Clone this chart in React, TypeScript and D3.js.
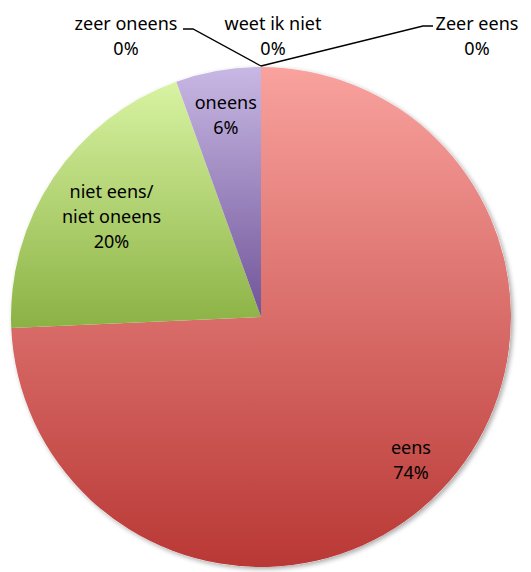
import * as d3 from 'd3';
import { useEffect, useRef } from 'react';

// answer categories, in the order Excel drew them (clockwise from 12 o'clock)
const categories = ['Zeer eens', 'eens', 'niet eens/ niet oneens', 'oneens', 'zeer oneens', 'weet ik niet'];
const shares = [0, 74.3, 20.2, 5.5, 0, 0];
const percentLabels = ['0%', '74%', '20%', '6%', '0%', '0%'];

const W = 531;
const H = 572;

function App() {
  const svgElement = useRef<SVGSVGElement | null>(null);

  useEffect(() => {
    if (!svgElement.current) return;
    const svg = d3.select(svgElement.current);
    svg.selectAll('*').remove();

    const cx = 261;
    const cy = 317;
    const radius = 250;
    const font = "'Noto Sans', sans-serif";
    const fontSize = 18;

    const data = categories.map((name, i) => ({ name, value: shares[i], pct: percentLabels[i] }));

    // gradient per slice, light top -> dark bottom
    const gradColors: Record<string, [string, string]> = {
      eens: ['#f9a29e', '#b93835'],
      'niet eens/ niet oneens': ['#d8f3a2', '#8bb244'],
      oneens: ['#c8b8e4', '#705498'],
    };
    const gradId: Record<string, string> = {};

    const defs = svg.append('defs');
    Object.entries(gradColors).forEach(([key, [top, bottom]], i) => {
      const g = defs
        .append('linearGradient')
        .attr('id', `grad${i}`)
        .attr('x1', 0)
        .attr('y1', 0)
        .attr('x2', 0)
        .attr('y2', 1);
      g.append('stop').attr('offset', '0%').attr('stop-color', top);
      g.append('stop').attr('offset', '100%').attr('stop-color', bottom);
      gradId[key] = `grad${i}`;
    });

    const shadow = defs
      .append('filter')
      .attr('id', 'shadow')
      .attr('x', '-10%')
      .attr('y', '-10%')
      .attr('width', '120%')
      .attr('height', '120%');
    shadow.append('feGaussianBlur').attr('in', 'SourceAlpha').attr('stdDeviation', 2.5);
    shadow.append('feOffset').attr('dx', 1.5).attr('dy', 1.5).attr('result', 'blur');
    shadow.append('feComponentTransfer').append('feFuncA').attr('type', 'linear').attr('slope', 0.35);
    const merge = shadow.append('feMerge');
    merge.append('feMergeNode');
    merge.append('feMergeNode').attr('in', 'SourceGraphic');

    const pie = d3
      .pie<{ name: string; value: number; pct: string }>()
      .sort(null)
      .value((d) => d.value)
      .startAngle(0)
      .endAngle(2 * Math.PI);
    const arcs = pie(data);

    const arc = d3
      .arc<d3.PieArcDatum<{ name: string; value: number; pct: string }>>()
      .innerRadius(0)
      .outerRadius(radius);

    const chart = svg.append('g').attr('transform', `translate(${cx}, ${cy})`);

    // shadow disc under the slices
    chart.append('circle').attr('r', radius).attr('fill', '#fff').attr('filter', 'url(#shadow)');

    chart
      .selectAll('.slice')
      .data(arcs.filter((d) => d.data.value > 0))
      .join('path')
      .attr('class', 'slice')
      .attr('d', arc)
      .attr('fill', (d) => `url(#${gradId[d.data.name]})`);

    // inner labels
    const labelRadius: Record<string, number> = {
      eens: 0.83,
      'niet eens/ niet oneens': 0.72,
      oneens: 0.82,
    };
    const lineH = 25;
    arcs
      .filter((d) => d.data.value > 0)
      .forEach((d) => {
        const mid = (d.startAngle + d.endAngle) / 2;
        const r = radius * labelRadius[d.data.name];
        const x = Math.sin(mid) * r;
        const y = -Math.cos(mid) * r;
        const lines = d.data.name === 'niet eens/ niet oneens' ? ['niet eens/', 'niet oneens'] : [d.data.name];
        lines.push(d.data.pct);
        const t = chart
          .append('text')
          .attr('text-anchor', 'middle')
          .attr('font-family', font)
          .attr('font-size', fontSize)
          .attr('fill', '#000');
        lines.forEach((l, j) => {
          t.append('tspan')
            .attr('x', x)
            .attr('y', y + (j - (lines.length - 1) / 2) * lineH + 6)
            .text(l);
        });
      });

    // outside labels for the empty slices, with leader lines
    const outside: Record<string, { x: number; y: number; line?: [number, number][] }> = {
      'zeer oneens': { x: 126, y: 30, line: [[261, 66], [193, 29], [183, 29]] },
      'weet ik niet': { x: 273, y: 30 },
      'Zeer eens': { x: 477, y: 30, line: [[261, 66], [423, 26], [433, 26]] },
    };
    arcs
      .filter((d) => d.data.value === 0)
      .forEach((d) => {
        const o = outside[d.data.name];
        if (o.line) {
          svg
            .append('path')
            .attr('d', d3.line()(o.line))
            .attr('fill', 'none')
            .attr('stroke', '#000')
            .attr('stroke-width', 1.3);
        }
        const t = svg
          .append('text')
          .attr('text-anchor', 'middle')
          .attr('font-family', font)
          .attr('font-size', fontSize)
          .attr('fill', '#000');
        t.append('tspan').attr('x', o.x).attr('y', o.y).text(d.data.name);
        t.append('tspan').attr('x', o.x).attr('y', o.y + lineH).text(d.data.pct);
      });
  }, []);

  return (
    <svg
      ref={svgElement}
      width={W}
      height={H}
      style={{ position: 'absolute', left: 0, top: 0, background: '#fff' }}
    />
  );
}

export default App;
